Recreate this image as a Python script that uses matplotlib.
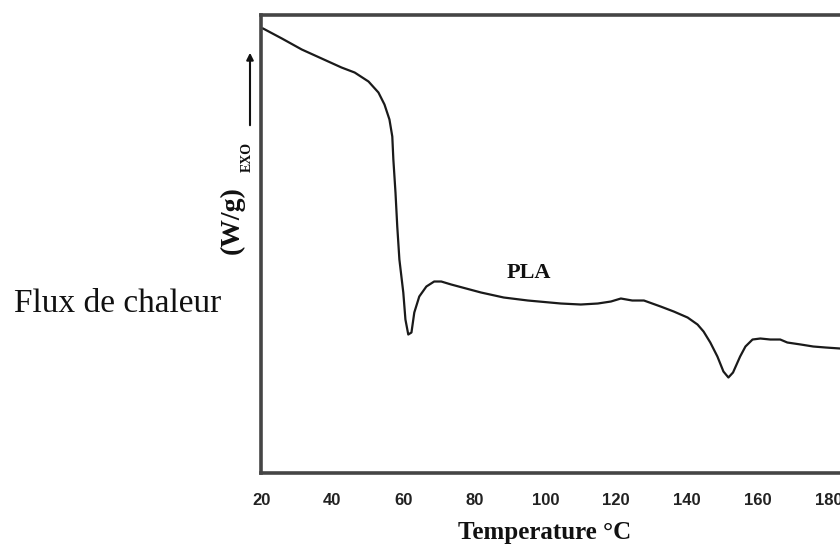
import matplotlib
matplotlib.use('Agg')
import matplotlib.pyplot as plt

# DSC curve of PLA
temperature = [20.5, 25.8, 31.4, 37.0, 42.6, 46.3, 50.2, 53.0, 54.7, 56.1, 56.9, 57.2,
               57.8, 58.3, 58.9, 60.0, 60.6, 61.4, 62.3, 63.1, 64.5, 66.5, 68.7,
               70.7, 73.5, 81.9, 88.3, 95.1, 104.4, 110.0, 114.8, 118.5, 121.3,
               124.5, 127.8, 132.5, 136.2, 140.1, 142.9, 144.6, 146.5, 148.5, 150.2,
               151.6, 152.9, 154.9, 156.4, 158.4, 160.6, 163.4, 166.2, 168.2, 172.0,
               175.5, 179.0, 183.1]
heat_flow = [4.44, 4.34, 4.23, 4.14, 4.05, 4.00, 3.91, 3.80, 3.68, 3.53, 3.36, 3.13,
             2.80, 2.46, 2.13, 1.80, 1.53, 1.38, 1.40, 1.60, 1.76, 1.86, 1.91,
             1.91, 1.88, 1.80, 1.75, 1.72, 1.69, 1.68, 1.69, 1.71, 1.74,
             1.72, 1.72, 1.66, 1.61, 1.55, 1.48, 1.41, 1.30, 1.16, 1.01,
             0.95, 1.00, 1.16, 1.26, 1.33, 1.34, 1.33, 1.33, 1.30, 1.28,
             1.26, 1.25, 1.24]
xticks = [20, 40, 60, 80, 100, 120, 140, 160, 180]

fig = plt.figure(figsize=(8.4, 5.46), dpi=100)
ax = fig.add_axes([0.3111, 0.1346, 0.7183, 0.8379])

ax.plot(temperature, heat_flow, color='#1a1a1a', linewidth=1.6)
ax.set_xlim(20.5, 190)
ax.set_ylim(0, 4.575)

ax.set_xticks(xticks)
ax.set_xticklabels([str(t) for t in xticks], fontfamily='Liberation Sans',
                   fontweight='bold', fontsize=12, color='#222222')
ax.tick_params(axis='x', length=0, pad=15)
ax.set_yticks([])
for s in ax.spines.values():
    s.set_linewidth(2.6)
    s.set_color('#454545')

ax.text(95.5, 1.995, 'PLA', fontfamily='Liberation Serif', fontweight='bold',
        fontsize=16, ha='center', va='center', color='#111111')

# labels placed in figure pixels
W, H = 840, 546
fig.text(545 / W, 1 - 533 / H, 'Temperature °C', fontfamily='Liberation Serif',
         fontweight='bold', fontsize=18, ha='center', va='center', color='#111111')
fig.text(118 / W, 1 - 304 / H, 'Flux de chaleur', fontfamily='Liberation Serif',
         fontsize=24, ha='center', va='center', color='#111111')
fig.text(232 / W, 1 - 220 / H, '(W/g)', fontfamily='Liberation Serif', fontweight='bold',
         fontsize=20, rotation=90, ha='center', va='center', color='#111111')
fig.text(247 / W, 1 - 157 / H, 'EXO', fontfamily='Liberation Serif', fontweight='bold',
         fontsize=10, rotation=90, ha='center', va='center', color='#111111')
fig.add_artist(matplotlib.patches.FancyArrowPatch(
    (250 / W, 1 - 128 / H), (250 / W, 1 - 50 / H), transform=fig.transFigure,
    arrowstyle='-|>', mutation_scale=10, linewidth=1.5, color='#111111'))

fig.savefig('out.png', dpi=100)
